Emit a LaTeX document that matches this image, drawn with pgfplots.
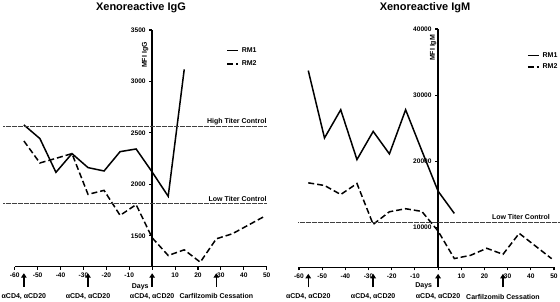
\documentclass[border=0pt]{standalone}
\usepackage{fontspec}
\setmainfont{Liberation Sans}
\usepackage{pgfplots}
\pgfplotsset{compat=1.18}
\usetikzlibrary{arrows.meta}

\newcommand{\sm}{\fontsize{7}{8}\selectfont\bfseries}
\pgfplotsset{
  gp/.style={
    scale only axis,
    xmin=-60, xmax=50,
    axis x line*=bottom, axis y line*=middle,
    axis line style={-, line width=1.5pt},
    inner axis line style={-, line width=1.5pt},
    xtick={-60,-50,...,50},
    xticklabels={-60,-50,-40,-30,-20,-10,,10,20,30,40,50},
    scaled y ticks=false,
    tick align=outside,
    xtick align=outside, ytick align=outside,
    major tick length=3pt,
    tick style={line width=1.1pt, black},
    ticklabel style={font=\fontsize{6.6}{7}\selectfont\bfseries},
    /pgf/number format/assume math mode=true,
    clip=false,
    legend style={draw=none, fill=none, font=\sm, anchor=north west, row sep=3pt, inner sep=1pt},
    legend cell align=left,
    legend image code/.code={\draw[##1] (0pt,0pt) -- (11pt,0pt);},
  },
  rm1/.style={black, line width=1.5pt},
  rm2/.style={black, line width=1.5pt, dash pattern=on 6pt off 3pt},
  refl/.style={black!75, line width=1.1pt, dash pattern=on 0.6pt off 0.6pt},
}
\newcommand{\ann}[3]{%
  \draw[line width=1.4pt, -{Triangle[length=4.5pt,width=5.5pt]}] ([yshift=-20pt]axis cs:#1,#2) -- ([yshift=-6.5pt]axis cs:#1,#2);
  \node[font=\sm, inner sep=0pt] at ([yshift=-29.5pt]axis cs:#1,#2) {#3};
}

\begin{document}
\begin{tikzpicture}
\path[use as bounding box] (0,0) rectangle (560pt,301pt);
\node[font=\fontsize{11}{13}\selectfont\bfseries, anchor=base] at (141pt,290.3pt) {Xenoreactive IgG};
\node[font=\fontsize{11}{13}\selectfont\bfseries, anchor=base] at (425pt,290.3pt) {Xenoreactive IgM};

% Left: IgG
\begin{axis}[gp,
  at={(14.7pt,34.3pt)}, anchor=south west,
  width=252pt, height=236.7pt,
  ymin=1200, ymax=3500,
  ytick={1500,2000,2500,3000,3500},
  yticklabels={1500,2000,2500,3000,3500},
  legend style={at={(0.835,0.94)}, nodes={inner xsep=3pt}},
]
\addplot[rm1] coordinates {(-56,2578) (-49,2445) (-42,2117) (-35,2299) (-28,2163) (-21,2130) (-14,2318) (-7,2344) (0,2120) (7,1884) (14,3117)};
\addlegendentry{RM1}
\addplot[rm2] coordinates {(-56,2422) (-49,2208) (-42,2253) (-35,2299) (-28,1903) (-21,1942) (-14,1699) (-7,1803) (0,1481) (7,1309) (14,1364) (21,1244) (28,1471) (35,1520) (49,1689)};
\addlegendentry{RM2}
\addplot[refl, forget plot] coordinates {(-65,2559) (50,2559)};
\addplot[refl, forget plot] coordinates {(-65,1812) (50,1812)};
\node[font=\sm, anchor=south east, inner sep=0pt] at ([yshift=1.5pt]axis cs:50,2559) {High Titer Control};
\node[font=\sm, anchor=south east, inner sep=0pt] at ([yshift=1.5pt]axis cs:50,1812) {Low Titer Control};
\node[font=\sm, rotate=90] at (axis cs:-3.1,3257) {MFI IgG};
\node[font=\sm] at ([yshift=-20pt]axis cs:-5.2,1200) {Days};
\ann{-56}{1200}{αCD4, αCD20}
\ann{-28}{1200}{αCD4, αCD20}
\ann{0}{1200}{αCD4, αCD20}
\ann{28}{1200}{Carfilzomib Cessation}
\end{axis}

% Right: IgM
\begin{axis}[gp,
  at={(299pt,33.7pt)}, anchor=south west,
  width=255pt, height=238.3pt,
  ymin=4000, ymax=40000,
  ytick={10000,20000,30000,40000},
  yticklabels={10000,20000,30000,40000},
  legend style={at={(0.89,0.915)}, row sep=1pt, nodes={inner xsep=3pt}},
]
\addplot[rm1] coordinates {(-56,33720) (-49,23540) (-42,27800) (-35,20270) (-28,24530) (-21,21130) (-14,27800) (-7,21600) (0,15500) (7,12140)};
\addlegendentry{RM1}
\addplot[rm2] coordinates {(-56,16760) (-49,16360) (-42,15000) (-35,16660) (-28,10480) (-21,12390) (-14,12850) (-7,12440) (0,9470) (7,5320) (14,5810) (21,6870) (28,5960) (35,9130) (49,5300)};
\addlegendentry{RM2}
\addplot[refl, forget plot] coordinates {(-60.3,10830) (52.6,10830)};
\node[font=\sm, anchor=south east, inner sep=0pt] at ([yshift=2.5pt]axis cs:48.3,10830) {Low Titer Control};
\node[font=\sm, rotate=90] at (axis cs:-2.1,37140) {MFI IgM};
\node[font=\sm] at ([yshift=-19pt]axis cs:-6.2,4000) {Days};
\ann{-56}{4000}{αCD4, αCD20}
\ann{-28}{4000}{αCD4, αCD20}
\ann{0}{4000}{αCD4, αCD20}
\ann{28}{4000}{Carfilzomib Cessation}
\end{axis}
\end{tikzpicture}
\end{document}
